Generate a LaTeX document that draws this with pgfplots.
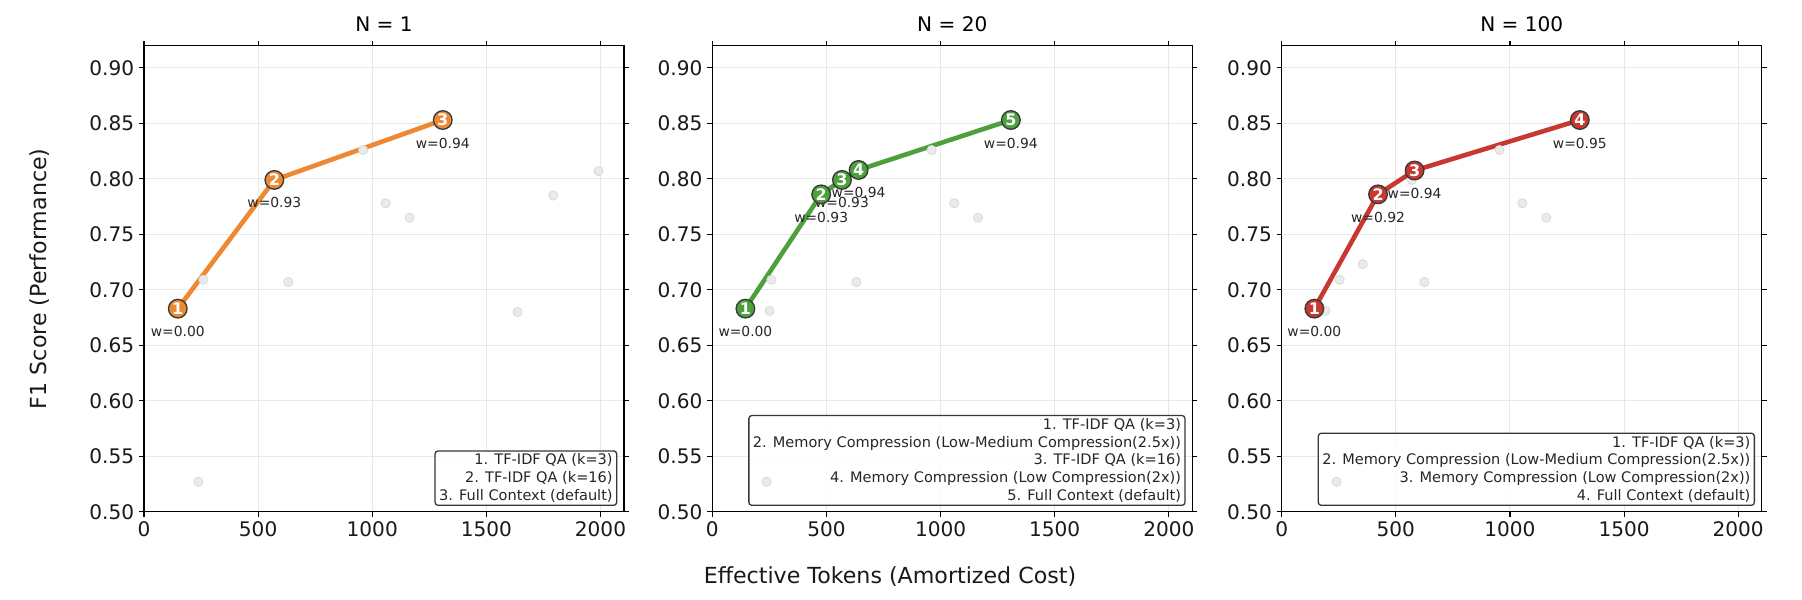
\documentclass[border=0pt]{standalone}
\usepackage{fontspec}
\setmainfont{DejaVu Sans}
\usepackage{pgfplots}
\pgfplotsset{compat=1.18}
\usepackage{pgfplotstable}

% one screen pixel at 100 dpi
\newdimen\px \px=0.01in

\definecolor{orangeC}{RGB}{238,136,51}
\definecolor{greenC}{RGB}{77,160,60}
\definecolor{redC}{RGB}{200,55,48}
\definecolor{dotfill}{RGB}{234,234,234}
\definecolor{dotedge}{RGB}{218,218,218}
\definecolor{gridgray}{RGB}{232,232,232}
\definecolor{edgegray}{RGB}{55,55,55}

% ---------- N = 1 ----------
\pgfplotstableread{
x y
148 0.683
571 0.799
1309 0.853
238 0.527
260 0.709
632 0.707
960 0.826
1059 0.778
1164 0.765
1637 0.680
1793 0.785
1991 0.807
}\allA
\pgfplotstableread{
x y idx w
148 0.683 1 w=0.00
571 0.799 2 w=0.93
1309 0.853 3 w=0.94
}\frontA

% ---------- N = 20 ----------
\pgfplotstableread{
x y
145 0.683
477 0.786
568 0.799
641 0.808
1308 0.853
238 0.527
251 0.681
259 0.709
631 0.707
961 0.826
1060 0.778
1164 0.765
}\allB
\pgfplotstableread{
x y idx w
145 0.683 1 w=0.00
477 0.786 2 w=0.93
568 0.799 3 w=0.93
641 0.808 4 w=0.94
1308 0.853 5 w=0.94
}\frontB

% ---------- N = 100 ----------
\pgfplotstableread{
x y
143 0.683
422 0.786
582 0.8075
1306 0.853
240 0.527
191 0.681
254 0.709
355 0.723
570 0.799
625 0.707
954 0.826
1054 0.778
1159 0.765
}\allC
\pgfplotstableread{
x y idx w
143 0.683 1 w=0.00
422 0.786 2 w=0.92
582 0.8075 3 w=0.94
1306 0.853 4 w=0.95
}\frontC

\pgfplotsset{
  panel/.style={
    scale only axis, width=480\px, height=466\px,
    anchor=south west,
    xmin=0, xmax=2103, ymin=0.5, ymax=0.92,
    xtick={0,500,1000,1500,2000},
    xticklabels={0,500,1000,1500,2000},
    ytick={0.5,0.55,0.6,0.65,0.7,0.75,0.8,0.85,0.9},
    yticklabels={0.50,0.55,0.60,0.65,0.70,0.75,0.80,0.85,0.90},
    tick align=outside, major tick length=5\px,
    tick style={black, line width=1.1\px},
    xmajorgrids, ymajorgrids,
    grid style={gridgray, line width=1\px},
    axis line style={black, line width=1.4\px},
    ticklabel style={font=\fontsize{14.5}{17}\selectfont, text=black!90},
    every axis title/.style={at={(0.5,1)}, anchor=base, yshift=14\px,
      font=\fontsize{14.5}{17}\selectfont},
    clip=false,
  },
  gray dots/.style={only marks, mark=*, mark size=4.6\px, color=dotedge,
    mark options={fill=dotfill, draw=dotedge, line width=0.8\px}},
  front line/.style={no marks, line width=4.6\px, line join=round, color=#1},
  front marks/.style={only marks, mark=*, mark size=9.3\px, color=edgegray,
    mark options={fill=#1, draw=edgegray, line width=1.3\px},
    nodes near coords, point meta=explicit symbolic,
    nodes near coords style={anchor=center, inner sep=0pt, text=white,
      font=\bfseries\fontsize{11.5}{12}\selectfont}},
  w labels/.style={draw=none, no marks,
    nodes near coords, point meta=explicit symbolic,
    nodes near coords style={anchor=base, yshift=-28\px, inner sep=0pt,
      text=black!85, font=\fontsize{10}{12}\selectfont}},
}
\tikzset{
  key box/.style={anchor=south east, draw=edgegray, line width=1.3\px,
    rounded corners=3\px, fill=white, fill opacity=0.85, text opacity=1,
    inner xsep=4\px, inner ysep=3\px, align=right, text=black!85,
    font=\fontsize{10.5}{12.8}\selectfont, xshift=-6.7\px, yshift=5.7\px},
}

\begin{document}
\begin{tikzpicture}
\useasboundingbox (0,0) rectangle (1802\px,600\px);

% N = 1
\begin{axis}[panel, at={(144\px,88.3\px)}, title={N = 1}]
  \addplot[gray dots] table[x=x, y=y] {\allA};
  \addplot[front line=orangeC] table[x=x, y=y] {\frontA};
  \addplot[w labels] table[x=x, y=y, meta=w] {\frontA};
  \addplot[front marks=orangeC] table[x=x, y=y, meta=idx] {\frontA};
  \node[key box] at (rel axis cs:1,0)
    {1. TF-IDF QA (k=3)\\2. TF-IDF QA (k=16)\\3. Full Context (default)};
\end{axis}

% N = 20
\begin{axis}[panel, at={(712.3\px,88.3\px)}, title={N = 20}]
  \addplot[gray dots] table[x=x, y=y] {\allB};
  \addplot[front line=greenC] table[x=x, y=y] {\frontB};
  \addplot[w labels] table[x=x, y=y, meta=w] {\frontB};
  \addplot[front marks=greenC] table[x=x, y=y, meta=idx] {\frontB};
  \node[key box] at (rel axis cs:1,0)
    {1. TF-IDF QA (k=3)\\2. Memory Compression (Low-Medium Compression(2.5x))\\3. TF-IDF QA (k=16)\\4. Memory Compression (Low Compression(2x))\\5. Full Context (default)};
\end{axis}

% N = 100
\begin{axis}[panel, at={(1281.7\px,88.3\px)}, title={N = 100}]
  \addplot[gray dots] table[x=x, y=y] {\allC};
  \addplot[front line=redC] table[x=x, y=y] {\frontC};
  \addplot[w labels] table[x=x, y=y, meta=w] {\frontC};
  \addplot[front marks=redC] table[x=x, y=y, meta=idx] {\frontC};
  \node[key box] at (rel axis cs:1,0)
    {1. TF-IDF QA (k=3)\\2. Memory Compression (Low-Medium Compression(2.5x))\\3. Memory Compression (Low Compression(2x))\\4. Full Context (default)};
\end{axis}

% shared axis labels
\node[rotate=90, font=\fontsize{16}{19}\selectfont, text=black!90] at (40\px,321.3\px) {F1 Score (Performance)};
\node[font=\fontsize{16}{19}\selectfont, text=black!90] at (890\px,23.3\px) {Effective Tokens (Amortized Cost)};
\end{tikzpicture}
\end{document}
